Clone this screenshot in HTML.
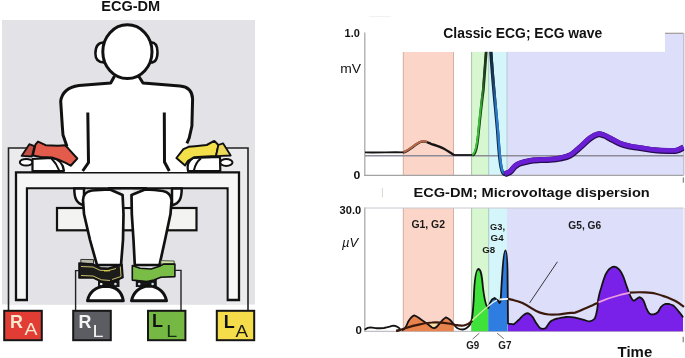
<!DOCTYPE html>
<html><head><meta charset="utf-8">
<style>
html,body{margin:0;padding:0;background:#fff;}
body{width:685px;height:358px;overflow:hidden;position:relative;}
svg{position:absolute;left:0;top:0;filter:blur(0.3px);}
text{font-family:"Liberation Sans",sans-serif;}
</style></head>
<body>
<svg width="685" height="358" viewBox="0 0 685 358">
<!-- ============ LEFT PANEL ============ -->
<text x="101.2" y="11" font-size="14" font-weight="bold" fill="#111" textLength="59" lengthAdjust="spacingAndGlyphs">ECG-DM</text>
<rect x="2" y="20" width="253" height="284.5" fill="#e3e2e6"/>
<!-- back table (thin) -->
<rect x="8.5" y="148" width="239.5" height="156.5" fill="#ebebee" stroke="none"/>
<path d="M8.5 310 V148 H248 V310" fill="none" stroke="#222" stroke-width="1.6"/>
<!-- front table -->
<path d="M16 300 V172.3 H239 V300 H227.5 V188.3 H27 V300 Z" fill="#f6f6f7" stroke="#111" stroke-width="2.3" stroke-linejoin="miter"/>
<rect x="28.1" y="189.5" width="198.3" height="115" fill="#e3e2e6"/>
<!-- chair -->
<rect x="57" y="208" width="139.5" height="22.3" fill="#f3f4f1" stroke="#111" stroke-width="2.2"/>
<rect x="121" y="189.5" width="12" height="17.4" fill="#f1f1f4"/>
<!-- hips -->
<path d="M74.3 188.5 C74.3 198 76 203 84 205.5 L84 188.5 Z" fill="#fff" stroke="#111" stroke-width="2.5"/>
<path d="M181.7 188.5 C181.7 198 180 203 172 205.5 L172 188.5 Z" fill="#fff" stroke="#111" stroke-width="2.5"/>
<!-- legs -->
<path d="M110 189.5 L122.6 195 L123.5 214 L123 240 L121 265 L97 265 L90 240 L84 214 L83 200 C83.5 194 86 191.5 92 190.5 C98 189.8 104 189.6 110 189.5 Z" fill="#fff" stroke="#111" stroke-width="2.7" stroke-linejoin="round"/>
<path d="M145 189.5 L131.5 195 L131.8 214 L133.5 240 L134.8 265 L159.5 265 L165 240 L170.5 214 L171.6 200 C171 195 168 192 163 191 C157 190 151 189.6 145 189.5 Z" fill="#fff" stroke="#111" stroke-width="2.7" stroke-linejoin="round"/>
<line x1="108" y1="188.2" x2="147" y2="188.2" stroke="#111" stroke-width="2.5"/>
<!-- feet -->
<rect x="98" y="278" width="21.5" height="9" fill="#151515"/>
<path d="M87.5 300.8 C89 293 95 286.5 106 286.3 C117 286.5 122 293 123.3 300.8 Z" fill="#fff" stroke="#111" stroke-width="3" stroke-linejoin="round"/>
<circle cx="101.2" cy="284" r="1.3" fill="#eee"/>
<circle cx="115.4" cy="284" r="1.3" fill="#dde"/>
<rect x="135.8" y="278" width="21" height="9" fill="#151515"/>
<path d="M131.5 300.8 C133 293 139 286.3 149 286 C159 286.3 165 293 166.5 300.8 Z" fill="#fff" stroke="#111" stroke-width="3" stroke-linejoin="round"/>
<circle cx="139.2" cy="284" r="1.3" fill="#cde"/>
<circle cx="152.6" cy="284" r="1.3" fill="#cde"/>
<!-- ankle bands -->
<path d="M80.8 259.4 L93.5 259.6 L93.5 263.5 L80.8 263.3 Z" fill="#b9b9aa" stroke="#222" stroke-width="0.9"/>
<path d="M79 263 L93.5 264.3 L100.4 267.7 L108.2 268.2 L117 265.8 L122 264.3 L123 277.5 L115 280.9 L106.3 282.9 L101.4 281.9 L93.5 278 L79 278 Z" fill="#1c1d1a" stroke="#111" stroke-width="1.6" stroke-linejoin="round"/>
<path d="M81 266.5 L93 267 L100 270.3 L108 270.6 L116 268.5 M81 275.5 L93 276 L101.5 279.8 L110 280.5 M120.3 266.5 L121 276.5 L112 279.5" fill="none" stroke="#c8bb6a" stroke-width="1"/>
<path d="M104 270.8 L110 270.6" stroke="#d8cc40" stroke-width="1.3"/>
<path d="M160.9 260.6 L174.2 261 L174.2 264 L160.9 264 Z" fill="#cfe3a2" stroke="#333" stroke-width="0.8"/>
<path d="M132.3 265.5 L140 268.3 L151.1 269 L159.5 266.2 L163.7 264.1 L174.9 264.1 L174.9 276.6 L160.9 277.3 L153.9 280.1 L147 281.5 L132.3 280.1 Z" fill="#79bd46" stroke="#111" stroke-width="1.6" stroke-linejoin="round"/>
<!-- wires to foot boxes -->
<path d="M79 270.6 H75.6 V310" fill="none" stroke="#222" stroke-width="1.4"/>
<path d="M174.9 270.4 H181 V310" fill="none" stroke="#222" stroke-width="1.4"/>
<!-- torso -->
<path d="M114.6 76 L110.7 83 L79 85.6 C69 87 62 92 60.7 101.3 L62.3 126 L63 135 L67 146.5 L64 160 L64 172 L190 172 L190 160 L186.9 143.3 L189.2 138 L191.9 126 L192.6 99 C192.3 90.5 188 86.6 180 85.9 L143 83 L138.6 76 Z" fill="#fff" stroke="none"/>
<path d="M114.6 76 L110.7 83 L79 85.6 C69 87 62 92 60.7 101.3 L62.3 126 L63 135 L67 146.5" fill="none" stroke="#111" stroke-width="3" stroke-linejoin="round"/>
<path d="M138.6 76 L143 83 L180 85.9 C188 86.6 192.3 90.5 192.6 99 L191.9 126 L189.2 138 L186.9 143.3" fill="none" stroke="#111" stroke-width="3" stroke-linejoin="round"/>
<path d="M87.8 112.5 L88.5 162.5 L82.7 171" fill="none" stroke="#111" stroke-width="3"/>
<path d="M164.3 112.5 L164.5 162 L169.3 171" fill="none" stroke="#111" stroke-width="3"/>
<!-- ears + head -->
<path d="M104 42.4 C98 42.4 95.4 47 95.4 53.5 C95.4 59 98 62.4 104 62.4 Z" fill="#fff" stroke="#111" stroke-width="2.5"/>
<path d="M150.8 42.2 C155.5 42.2 157.5 46 157.5 52 C157.5 58 155.5 62.6 150.8 62.6 Z" fill="#fff" stroke="#111" stroke-width="2.5"/>
<ellipse cx="127.4" cy="51.7" rx="24.6" ry="26.9" fill="#fff" stroke="#111" stroke-width="3"/>
<!-- left hand -->
<ellipse cx="26.2" cy="162.3" rx="6.4" ry="3.3" fill="#fff" stroke="#111" stroke-width="2"/>
<path d="M32.5 171 L32.5 159 L52 158 C58 159 63 163 64 171 Z" fill="#fff" stroke="#111" stroke-width="2.2" stroke-linejoin="round"/>
<path d="M51.5 158.5 C55 162 57.5 166 59.2 170.5" fill="none" stroke="#111" stroke-width="2"/>
<path d="M32.9 155.4 L35.4 144.7 L38 141.6 L45.7 145.2 L57.9 145.7 L65.1 145.2 L68.1 148.3 L77.3 158.5 L70.7 165.7 L65.1 162.6 L57.9 159.5 L51.8 157.5 L40.5 157 Z" fill="#e35c4b" stroke="#111" stroke-width="2" stroke-linejoin="round"/>
<path d="M21.6 155.9 L29.3 144.2 L34.4 146.2 L31.9 156.5 Z" fill="#c55048" stroke="#111" stroke-width="1.8" stroke-linejoin="round"/>
<!-- right hand -->
<ellipse cx="226.3" cy="162.5" rx="6.2" ry="3.5" fill="#fff" stroke="#111" stroke-width="2"/>
<path d="M188 171 C187 166 188 161 193 158 L220 157 L220.3 171 Z" fill="#fff" stroke="#111" stroke-width="2.2" stroke-linejoin="round"/>
<path d="M200.9 158.4 C197 161.5 195 165 193.9 170.5" fill="none" stroke="#111" stroke-width="2"/>
<path d="M176.4 158 L183.4 149.1 L188.6 146.8 L195 146.2 L206.7 145 L214.3 140.9 L218.4 145 L216 156.1 L202 156.7 L193.9 157.3 L188 160.8 L185.1 165.4 Z" fill="#f3df49" stroke="#111" stroke-width="2" stroke-linejoin="round"/>
<path d="M218.4 145 L223 143.3 L230.7 155.5 L216 156.1 Z" fill="#ecd95a" stroke="#111" stroke-width="1.8" stroke-linejoin="round"/>
<!-- boxes -->
<rect x="4.2" y="310.8" width="37.6" height="29.4" fill="#e23d35" stroke="#161616" stroke-width="2"/>
<text x="9.9" y="327.6" font-size="18.6" font-weight="bold" fill="#f7e9cf" textLength="12.9" lengthAdjust="spacingAndGlyphs">R</text>
<text x="24.6" y="335.4" font-size="17" fill="#f7e9cf" textLength="13" lengthAdjust="spacingAndGlyphs">A</text>
<rect x="73.2" y="310.8" width="37.6" height="29.4" fill="#5b5d63" stroke="#161616" stroke-width="2"/>
<text x="78.6" y="327.6" font-size="18.6" font-weight="bold" fill="#f3f3f3" textLength="12.9" lengthAdjust="spacingAndGlyphs">R</text>
<text x="92.6" y="337.4" font-size="17" fill="#f3f3f3" textLength="11" lengthAdjust="spacingAndGlyphs">L</text>
<rect x="148" y="310.8" width="37.4" height="29.4" fill="#75b844" stroke="#161616" stroke-width="2"/>
<text x="152" y="327.4" font-size="18.6" font-weight="bold" fill="#111" textLength="11" lengthAdjust="spacingAndGlyphs">L</text>
<text x="166.3" y="337.4" font-size="17" fill="#163010" textLength="11" lengthAdjust="spacingAndGlyphs">L</text>
<rect x="216.8" y="310.8" width="37.4" height="29.4" fill="#f5dc4a" stroke="#161616" stroke-width="2"/>
<text x="223.7" y="327.6" font-size="18.6" font-weight="bold" fill="#111" textLength="11" lengthAdjust="spacingAndGlyphs">L</text>
<text x="235.6" y="337.4" font-size="17" fill="#1a1a10" textLength="12.6" lengthAdjust="spacingAndGlyphs">A</text>

<!-- ============ TOP CHART ============ -->
<rect x="403" y="52" width="50.7" height="123.3" fill="#fbd6c8"/>
<line x1="403.3" y1="52" x2="403.3" y2="175.3" stroke="#c9a394" stroke-width="0.8"/>
<line x1="453.5" y1="52" x2="453.5" y2="175.3" stroke="#c9a394" stroke-width="0.8"/>
<rect x="471.5" y="52" width="17.2" height="123.3" fill="#d6f7d0"/>
<rect x="488.7" y="52" width="18.3" height="123.3" fill="#d4f5f9"/>
<line x1="471.6" y1="52" x2="471.6" y2="175.3" stroke="#9ab39a" stroke-width="0.8"/>
<line x1="488.7" y1="52" x2="488.7" y2="175.3" stroke="#9bb" stroke-width="0.8"/>
<rect x="507" y="33.3" width="176.5" height="142" fill="#dddefa"/>
<line x1="665" y1="33.3" x2="683.5" y2="33.3" stroke="#a09a96" stroke-width="1.2"/>
<line x1="683.5" y1="33.3" x2="683.5" y2="175.3" stroke="#b8b8cc" stroke-width="0.8"/>
<line x1="507" y1="52" x2="507" y2="175.3" stroke="#a9c2c8" stroke-width="0.8"/>
<!-- axes -->
<line x1="364.8" y1="32.5" x2="364.8" y2="175.8" stroke="#a3a3a3" stroke-width="1.2"/>
<line x1="364.2" y1="175.3" x2="683.5" y2="175.3" stroke="#a3a3a3" stroke-width="1.2"/>
<line x1="365" y1="155.7" x2="683.5" y2="155.7" stroke="#8c8c98" stroke-width="1.4"/>
<!-- ecg -->
<path d="M365 152.4 C380 152.7 395 151.9 403.5 152.4" fill="none" stroke="#151515" stroke-width="1.9"/>
<path d="M403 152.6 C408 151 412 147.5 416 144.5 C419 142.3 421 141.4 423.5 141.4 C426 141.5 428 142.5 431 143.8 C436 145.5 440 146.6 444 148.8 C448 151 451 153.5 454 155" fill="none" stroke="#151515" stroke-width="2.4" stroke-linejoin="round"/>
<path d="M403.5 152.2 C408 150.6 412 147 416 144.2 C419 142 421 141.2 423.5 141.1 C425 141.1 426 141.4 427 141.9" fill="none" stroke="#b5684a" stroke-width="2.2"/>
<path d="M453.5 155 L473 155" fill="none" stroke="#151515" stroke-width="1.8"/>
<defs>
<linearGradient id="gup" gradientUnits="userSpaceOnUse" x1="0" y1="50" x2="0" y2="150">
<stop offset="0" stop-color="#1d2d1d"/><stop offset="0.3" stop-color="#1f4a1f"/><stop offset="0.6" stop-color="#38b836"/><stop offset="1" stop-color="#3cc63a"/></linearGradient>
<linearGradient id="gdn" gradientUnits="userSpaceOnUse" x1="0" y1="50" x2="0" y2="150">
<stop offset="0" stop-color="#152535"/><stop offset="0.3" stop-color="#1a3a5a"/><stop offset="0.6" stop-color="#2a7acb"/><stop offset="1" stop-color="#2a7fd0"/></linearGradient>
</defs>
<path d="M472.5 155.2 C475.5 154.5 477 148 478.4 134 C480 118 481.5 104 483.4 90 C484.5 75 485.5 62 486.6 48" fill="none" stroke="#163416" stroke-width="2.6"/>
<path d="M472.2 154.8 C475 154 476.5 148 478 134 C479.5 118 481 104 482.9 90 C484 75 485 62 486.1 48" fill="none" stroke="url(#gup)" stroke-width="2"/>
<path d="M490.5 48 C491.5 62 492.5 76 493.8 90 C495 104 496.5 118 497.8 134 C498.8 150 500 165 502 171 C503 174 504 174.6 505.5 174.6" fill="none" stroke="#0e2238" stroke-width="3.2"/>
<path d="M490.9 48 C491.9 62 492.9 76 494.3 90 C495.5 104 497 118 498.3 134 C499.3 150 500.3 164 502.1 170 C503 172.5 504 173.3 505.5 173.4" fill="none" stroke="url(#gdn)" stroke-width="2.4"/>
<path d="M504.5 174.3 C505.4 173.9 508.2 173.3 510.0 172.0 C511.8 170.7 513.3 167.9 515.0 166.5 C516.7 165.1 517.5 164.4 520.0 163.5 C522.5 162.6 526.7 161.6 530.0 161.0 C533.3 160.4 536.7 160.3 540.0 160.1 C543.3 159.9 546.7 160.1 550.0 159.8 C553.3 159.5 556.7 159.2 560.0 158.5 C563.3 157.8 566.7 157.3 570.0 155.5 C573.3 153.7 576.7 150.3 580.0 147.5 C583.3 144.7 587.0 140.7 590.0 138.5 C593.0 136.3 595.7 134.9 598.0 134.4 C600.3 133.9 602.0 134.8 604.0 135.5 C606.0 136.2 607.3 137.1 610.0 138.5 C612.7 139.9 616.7 142.5 620.0 143.8 C623.3 145.2 626.7 145.9 630.0 146.6 C633.3 147.3 635.8 147.5 640.0 148.1 C644.2 148.7 650.0 149.8 655.0 150.3 C660.0 150.8 666.3 150.9 670.0 151.0 C673.7 151.1 674.8 151.2 677.0 150.6 C679.2 150.0 682.4 148.1 683.5 147.6" fill="none" stroke="#240c50" stroke-width="6"/>
<path d="M504.5 173.7 C505.4 173.3 508.2 172.7 510.0 171.4 C511.8 170.1 513.3 167.3 515.0 165.9 C516.7 164.5 517.5 163.8 520.0 162.9 C522.5 162.0 526.7 161.0 530.0 160.4 C533.3 159.8 536.7 159.7 540.0 159.5 C543.3 159.3 546.7 159.5 550.0 159.2 C553.3 158.9 556.7 158.6 560.0 157.9 C563.3 157.2 566.7 156.7 570.0 154.9 C573.3 153.1 576.7 149.7 580.0 146.9 C583.3 144.1 587.0 140.1 590.0 137.9 C593.0 135.7 595.7 134.3 598.0 133.8 C600.3 133.3 602.0 134.2 604.0 134.9 C606.0 135.6 607.3 136.5 610.0 137.9 C612.7 139.3 616.7 141.9 620.0 143.2 C623.3 144.6 626.7 145.3 630.0 146.0 C633.3 146.7 635.8 146.9 640.0 147.5 C644.2 148.1 650.0 149.2 655.0 149.7 C660.0 150.2 666.3 150.4 670.0 150.4 C673.7 150.4 674.8 150.6 677.0 150.0 C679.2 149.4 682.4 147.5 683.5 147.0" fill="none" stroke="#6b1fd4" stroke-width="4.6"/>
<!-- title box -->
<rect x="366" y="14" width="299" height="37.8" fill="#fff"/>
<text x="443.3" y="37.6" font-size="14.2" font-weight="bold" fill="#111" textLength="159" lengthAdjust="spacingAndGlyphs">Classic ECG; ECG wave</text>
<text x="344.6" y="36.8" font-size="11" font-weight="bold" fill="#111" textLength="15.2" lengthAdjust="spacingAndGlyphs">1.0</text>
<text x="340.3" y="72.8" font-size="13.2" fill="#111" textLength="20.8" lengthAdjust="spacingAndGlyphs">mV</text>
<text x="353.6" y="179" font-size="11" font-weight="bold" fill="#111" textLength="6.8" lengthAdjust="spacingAndGlyphs">0</text>
<line x1="382.4" y1="188" x2="382.4" y2="197.4" stroke="#dcd6cc" stroke-width="1"/>
<line x1="683.3" y1="177.5" x2="683.3" y2="182.8" stroke="#777" stroke-width="1.1"/>
<rect x="684.2" y="33" width="0.8" height="142.5" fill="#dedee4"/>
<rect x="684.2" y="208" width="0.8" height="123.5" fill="#dedee4"/>
<line x1="369" y1="16.5" x2="391" y2="16.5" stroke="#f1f1f1" stroke-width="1"/>

<!-- ============ BOTTOM CHART ============ -->
<text x="413.4" y="196.6" font-size="13.6" font-weight="bold" fill="#111" textLength="236.4" lengthAdjust="spacingAndGlyphs">ECG-DM; Microvoltage dispersion</text>
<rect x="403" y="208" width="50.7" height="123.2" fill="#fbd6c8"/>
<line x1="403.3" y1="208" x2="403.3" y2="331.2" stroke="#c9a394" stroke-width="0.8"/>
<line x1="453.5" y1="208" x2="453.5" y2="331.2" stroke="#c9a394" stroke-width="0.8"/>
<rect x="471.5" y="208" width="17.2" height="123.2" fill="#d6f7d0"/>
<rect x="488.7" y="208" width="18.3" height="123.2" fill="#d4f5f9"/>
<rect x="507" y="208" width="176.5" height="123.2" fill="#dddefa"/>
<line x1="471.6" y1="208" x2="471.6" y2="331.2" stroke="#9ab39a" stroke-width="0.8"/>
<line x1="488.7" y1="208" x2="488.7" y2="331.2" stroke="#9bb" stroke-width="0.8"/>
<line x1="364.8" y1="207.6" x2="364.8" y2="331.5" stroke="#a3a3a3" stroke-width="1.2"/>
<line x1="364.2" y1="208" x2="683.5" y2="208" stroke="#c8c8d0" stroke-width="1"/>
<line x1="364.2" y1="331.3" x2="683.5" y2="331.3" stroke="#b0b0b8" stroke-width="1"/>
<!-- fills -->
<path d="M403 331.2 L403 330 C405 329 406 328 408 322 C410 318.5 412 316 414.3 315.3 C417 316 419 318 421 319.5 C425 322 429 325 432 327.5 C433.5 328.5 435 328.5 437 326.5 C440 323.5 442 319.5 446 317.3 C449 318.5 450.5 320 452.5 321.5 L453.5 322.5 L453.5 331.2 Z" fill="#e9834e"/>
<path d="M428 324.2 C430 323 434 322.5 440 323.2 C438 325 436.5 327.8 434 328.2 C432 327.5 430 325.5 428 324.2 Z" fill="#fbe0a6"/>
<path d="M471.5 331.2 L471.5 321 L472 318.2 C473 312 473.3 306 473.8 298 C474.3 284 475.5 269.2 478.5 269 C481.5 269.2 482.2 280 483 288 C484 296 485 302 486.5 305.5 L488.3 308 L488.3 331.2 Z" fill="#3ee23a"/>
<path d="M488.3 331.2 L488.3 307 L490 303 L492 299.5 L494.5 298 L496.5 299.5 L498 300.5 L499.5 303 L500.6 301 C501 295 501.5 285 502.2 275 C503 262 504 250.4 505.4 250.4 C507 250.4 507.6 262 507.6 280 L507.6 331.2 Z" fill="#2f7de0"/>
<path d="M508 331.2 L508 323.6 L513.8 324.3 C516 322.5 518 320.5 519.6 319.2 C521.5 317 522.5 315.5 524 314.8 C525.5 313.5 527 313 528.4 313.4 C530 314 531.5 315.5 532.7 317 C534.5 320 535.5 322.5 537.1 324.3 C538.5 326.5 540 328.5 541.5 328.7 C543.5 329 545 328.5 545.9 328 C547 326 548 324.8 548.8 323.6 C549.8 322 550.5 321.2 551.7 320.7 C553.5 319.6 555.5 318.9 557.6 318.5 C560.5 317.8 563.5 317.3 566.3 317 C569 316.9 572 317.1 575.1 317.7 C578 318.3 581 319.1 583.8 319.9 C586 320.5 588 321.4 589.7 321.4 C591.5 321.2 593.5 320 594.8 318.5 C596 316 596.5 313.5 597 310.4 C597.5 308 598 305.5 598.1 299.8 C599 295 600 291 601.3 287.2 C602.5 283 604 278.5 605.5 274.7 C607 271.5 609 269 610.7 268 C612 267.1 613 266.7 614.3 266.7 C616 266.8 617.5 267.8 619.1 269.4 C620.5 271 622 273.5 623.3 276.7 C624.8 280.5 626 284.5 627.4 288.3 C628.5 291.5 629.5 294.5 630.6 296.6 C631.5 298.5 632.5 300 633.7 300.8 C635 300.5 636 299.5 636.9 298.7 C638 297.8 639 297.1 640 297.3 C641.5 297.8 642.6 299 643.6 300.8 C644.6 303 645.4 305.5 646.3 308.1 C647.3 310.5 648.2 312.3 649.4 313.4 C650.8 314.4 652.2 314.6 653.6 314.4 C655.2 314 656.6 313.3 657.8 312.3 C659 310.8 659.8 308.8 660.9 307.1 C662.2 305.5 663.6 304.5 665.1 304 C666.5 303.8 668 303.8 669.3 304 C670.8 304.4 672.2 305 673.5 305.6 C675 306.8 676.4 308.5 677.7 310.2 C679.3 312.2 680.8 314 681.9 315.5 L683 317.5 L683 331.2 Z" fill="#7a21e9"/>
<!-- raw signal (black) -->
<path d="M365.3 329.2 C366 328.7 368 327.6 370.8 327.4 C373 327.5 375 328.3 376.6 328.3 C379 328.3 381 328.2 383.9 328 C386 327.7 388 327.2 389.7 326.7 C391 326.2 392.3 325.6 393.4 325.6 C394.5 325.7 395.5 325.9 396.3 326.3 C397.5 327 398.5 327.5 399.2 328.1 C399.8 328.7 400.2 329.3 400 329.6 C399 330.3 398 330.5 397 330.3" fill="none" stroke="#151515" stroke-width="1.9" stroke-linejoin="round" stroke-linecap="round"/>
<path d="M402 330.5 C404 329.5 406 328 408 322 C410 318.5 412 316 414.3 315.3 C417 316 419 318 421 319.5 C425 322 429 325 432 327.5 C433.5 328.5 435 328.5 437 326.5 C440 323.5 442 319.5 446 317.3 C449 318.5 451 320 453.8 324.5 C455 326 456 327.3 457.5 328.2 C459 329 460.8 329.5 462.6 329.5 C464 329.4 465.2 329 466.3 328.2 C468 327 469.2 326 470.1 324.5 C471 322.5 471.5 320.5 472 318.2 C473 312 473.3 306 473.8 298 C474.3 284 475.5 269.2 478.5 269 C481.5 269.2 482.2 280 483 288 C484 296 485 302 486.5 305.5 L488.3 308 L490 303 L492 299.5 L494.5 298 L496.5 299.5 L498 300.5 L499.5 303 L500.6 301 C501 295 501.5 285 502.2 275 C503 262 504 250.4 505.4 250.4 C507 250.4 507.6 262 507.6 280 L508 323.6 L513.8 324.3 C516 322.5 518 320.5 519.6 319.2 C521.5 317 522.5 315.5 524 314.8 C525.5 313.5 527 313 528.4 313.4 C530 314 531.5 315.5 532.7 317 C534.5 320 535.5 322.5 537.1 324.3 C538.5 326.5 540 328.5 541.5 328.7 C543.5 329 545 328.5 545.9 328 C547 326 548 324.8 548.8 323.6 C549.8 322 550.5 321.2 551.7 320.7 C553.5 319.6 555.5 318.9 557.6 318.5 C560.5 317.8 563.5 317.3 566.3 317 C569 316.9 572 317.1 575.1 317.7 C578 318.3 581 319.1 583.8 319.9 C586 320.5 588 321.4 589.7 321.4 C591.5 321.2 593.5 320 594.8 318.5 C596 316 596.5 313.5 597 310.4 C597.5 308 598 305.5 598.1 299.8 C599 295 600 291 601.3 287.2 C602.5 283 604 278.5 605.5 274.7 C607 271.5 609 269 610.7 268 C612 267.1 613 266.7 614.3 266.7 C616 266.8 617.5 267.8 619.1 269.4 C620.5 271 622 273.5 623.3 276.7 C624.8 280.5 626 284.5 627.4 288.3 C628.5 291.5 629.5 294.5 630.6 296.6 C631.5 298.5 632.5 300 633.7 300.8 C635 300.5 636 299.5 636.9 298.7 C638 297.8 639 297.1 640 297.3 C641.5 297.8 642.6 299 643.6 300.8 C644.6 303 645.4 305.5 646.3 308.1 C647.3 310.5 648.2 312.3 649.4 313.4 C650.8 314.4 652.2 314.6 653.6 314.4 C655.2 314 656.6 313.3 657.8 312.3 C659 310.8 659.8 308.8 660.9 307.1 C662.2 305.5 663.6 304.5 665.1 304 C666.5 303.8 668 303.8 669.3 304 C670.8 304.4 672.2 305 673.5 305.6 C675 306.8 676.4 308.5 677.7 310.2 C679.3 312.2 680.8 314 681.9 315.5 L683 317.5" fill="none" stroke="#141414" stroke-width="1.8" stroke-linejoin="round"/>
<!-- smooth average (brown) -->
<path d="M397 331 C400 330 403 329 406 328 C410 326.6 415 325.2 420 324.3 C425 323.3 428 322.6 432 322.5 C436 322.3 440 322.4 444 322.8 C448 323.2 452 323.8 455 324.8 C458 325.5 461 325.8 464 325.5 C467 325 469.5 323.5 472 321" fill="none" stroke="#3b1a0d" stroke-width="2.2" stroke-linecap="round"/>
<path d="M472 320.5 C477 316 482 311 488 306.5" fill="none" stroke="#cdeea0" stroke-width="1.4"/>
<path d="M488 306.5 C491 303.5 494 301.5 497 300.2" fill="none" stroke="#d7f0f7" stroke-width="1.4"/>
<path d="M500 299.5 C503 299.2 506 299 508 298.9" fill="none" stroke="#ffffff" stroke-width="1.8"/>
<path d="M508 298.8 C510 299.2 512 299.8 513.8 300.2 C517 301 520 302 522.5 303.1 C526 304.8 529 306.6 531.3 308.2 C534 310 537 311.6 540 312.6 C543 313.6 546 314.3 548.8 314.5 C552 314.7 555 314.6 557.6 314.5 C561 314.2 563.5 313.7 566.3 313.4 C569 313.1 572 312.9 575.1 312.6 C578 311.8 581 310.4 583.8 309 C587 307.6 590 306.4 592.6 305.3 C594.5 304.4 596.5 303.2 598.4 302.4" fill="none" stroke="#3b1a0d" stroke-width="2.2"/>
<path d="M598.4 302.4 C605 299.5 612 297 620 295 C624 294 627 293.2 630 292.6" fill="none" stroke="#ef9fe0" stroke-width="1.8"/>
<path d="M630 292.6 C635 292.2 640 292.2 645 292.4 C650 292.8 653 293.1 655 293.5 C659 294.5 662 295.5 665 296.6 C668 297.8 672 299.4 675 300.8 C678 302.4 681 304.5 684 306.8" fill="none" stroke="#3b1a0d" stroke-width="2.2"/>
<!-- diagonal line -->
<line x1="557.4" y1="261.8" x2="529.6" y2="302.9" stroke="#222" stroke-width="0.9"/>
<!-- labels -->
<text x="339.6" y="213.8" font-size="10.6" font-weight="bold" fill="#111" textLength="21.6" lengthAdjust="spacingAndGlyphs">30.0</text>
<text x="342" y="246.8" font-size="13" font-style="italic" fill="#111">µV</text>
<text x="355.6" y="333.9" font-size="10.6" font-weight="bold" fill="#111" textLength="6.4" lengthAdjust="spacingAndGlyphs">0</text>
<text x="411.4" y="227.9" font-size="10.4" font-weight="bold" fill="#1a1a1a" textLength="33.6" lengthAdjust="spacingAndGlyphs">G1, G2</text>
<text x="490" y="229.9" font-size="9" font-weight="bold" fill="#1a1a1a" textLength="15" lengthAdjust="spacingAndGlyphs">G3,</text>
<text x="490.6" y="241" font-size="9" font-weight="bold" fill="#1a1a1a" textLength="13" lengthAdjust="spacingAndGlyphs">G4</text>
<text x="482.2" y="253.3" font-size="9" font-weight="bold" fill="#1a1a1a" textLength="13" lengthAdjust="spacingAndGlyphs">G8</text>
<text x="568.3" y="228.5" font-size="10" font-weight="bold" fill="#1a1a1a" textLength="32.9" lengthAdjust="spacingAndGlyphs">G5, G6</text>
<text x="466.3" y="349" font-size="10.4" font-weight="bold" fill="#1a1a1a" textLength="13" lengthAdjust="spacingAndGlyphs">G9</text>
<text x="498.3" y="349" font-size="10.4" font-weight="bold" fill="#1a1a1a" textLength="13.2" lengthAdjust="spacingAndGlyphs">G7</text>
<line x1="472.6" y1="339.1" x2="479.3" y2="333.2" stroke="#6a5a58" stroke-width="0.9"/>
<line x1="497.1" y1="333.2" x2="503.8" y2="338.7" stroke="#6a5a58" stroke-width="0.9"/>
<text x="617.6" y="357.4" font-size="15" font-weight="bold" fill="#111" textLength="34.6" lengthAdjust="spacingAndGlyphs">Time</text>
<line x1="683.2" y1="336.8" x2="683.2" y2="342.3" stroke="#777" stroke-width="1.1"/>
</svg>
</body></html>
